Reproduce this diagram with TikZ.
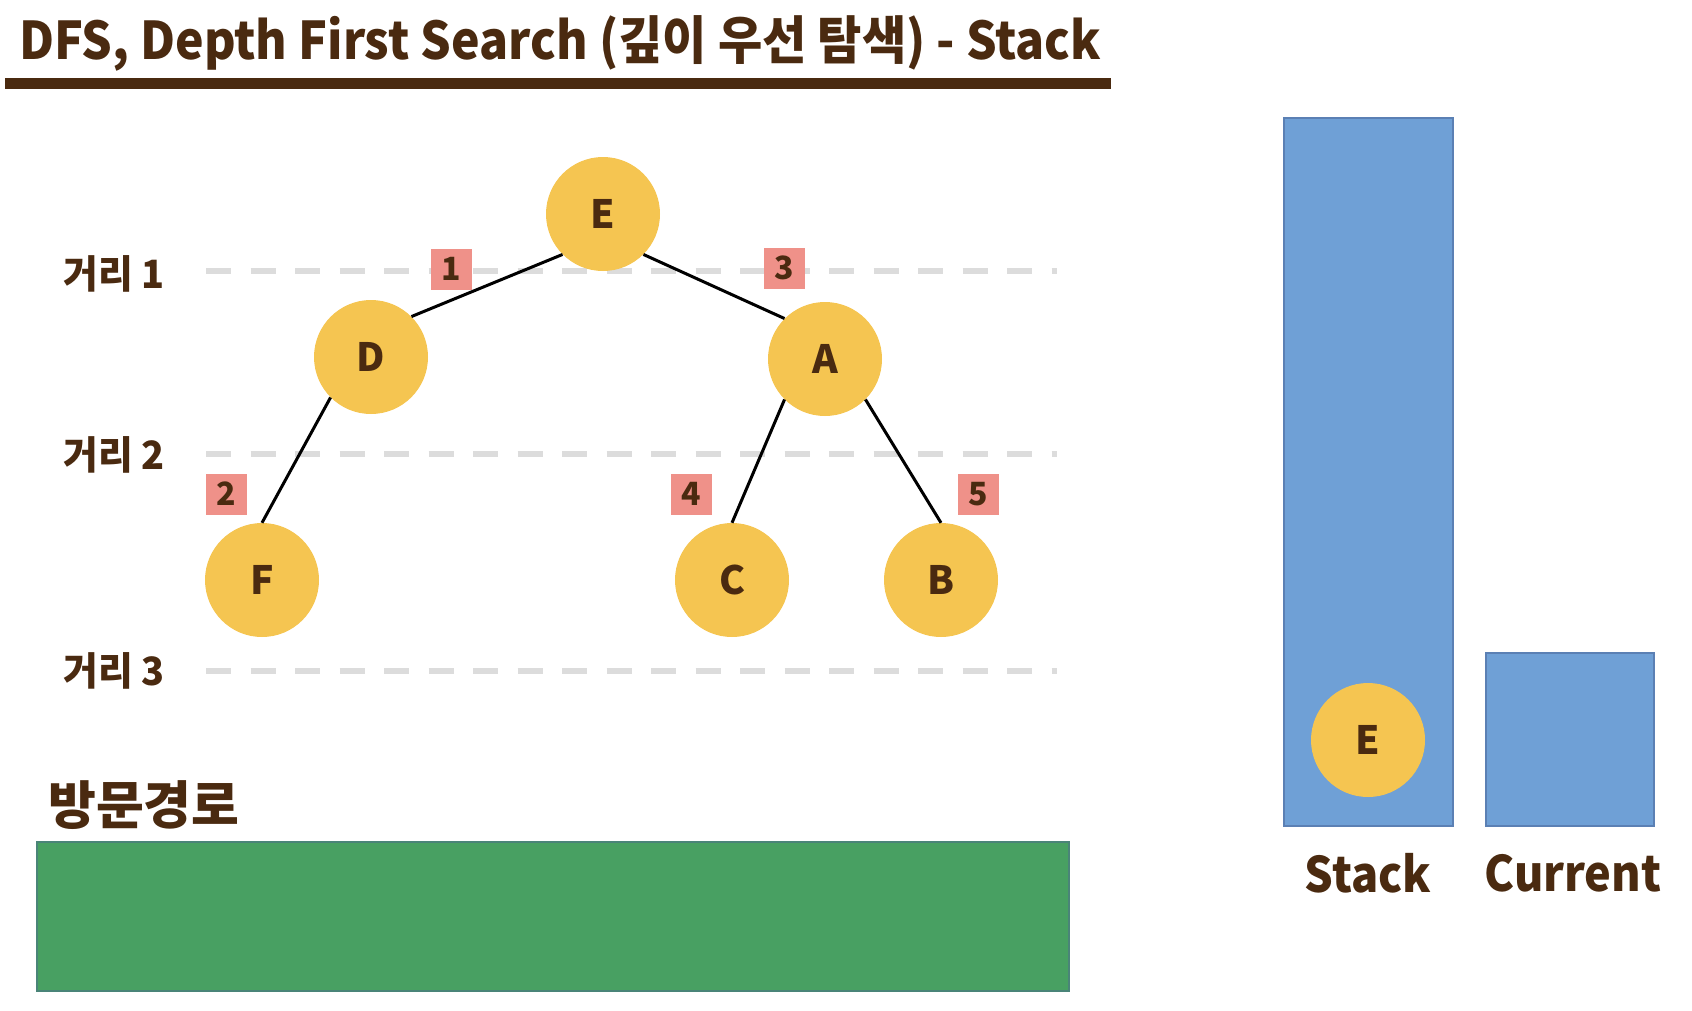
\documentclass[tikz,border=0pt]{standalone}
\usepackage{fontspec}
\setmainfont{Noto Sans CJK KR}
\definecolor{txt}{HTML}{4A2A10}
\definecolor{nodeyellow}{HTML}{F5C551}
\definecolor{salmon}{HTML}{EF9189}
\definecolor{guidegray}{HTML}{DCDCDC}
\definecolor{boxblue}{HTML}{6FA0D6}
\definecolor{boxblueedge}{HTML}{5B80B4}
\definecolor{pathgreen}{HTML}{48A062}
\definecolor{pathgreenedge}{HTML}{4A8478}
\begin{document}
\begin{tikzpicture}[x=1pt,y=-1pt,
  vert/.style={circle, fill=nodeyellow, minimum size=114pt, inner sep=0pt, text=txt, font=\fontsize{39}{39}\selectfont\bfseries},
  ord/.style={fill=salmon, minimum size=41pt, inner sep=0pt, text=txt, font=\fontsize{32}{32}\selectfont\bfseries},
  dist/.style={anchor=west, text=txt, inner sep=0pt, font=\fontsize{39}{39}\selectfont\bfseries},
  guide/.style={draw=guidegray, line width=6.5pt, dash pattern=on 25pt off 19.5pt},
  treeedge/.style={draw=black, line width=3pt},
  panel/.style={draw=boxblueedge, fill=boxblue, line width=2pt, inner sep=0pt},
  biglabel/.style={text=txt, inner sep=0pt, font=\fontsize{49}{49}\selectfont\bfseries}
]
\useasboundingbox (0,0) rectangle (1692,1010);

% title
\node[anchor=base west, text=txt, inner sep=0pt, font=\fontsize{52}{52}\selectfont\bfseries] (title) at (19,59) {\scalebox{0.926}[1]{DFS, Depth First Search (깊이 우선 탐색) - Stack}};
\coordinate (ulA) at (5,83);
\coordinate (ulB) at (1111,83);
\draw[draw=txt, line width=11pt] (ulA) -- (ulB);

% distance labels and guide lines
\node[dist] (d1) at (63,274) {\scalebox{0.97}[1]{거리 1}};
\node[dist] (d2) at (63,455) {\scalebox{0.97}[1]{거리 2}};
\node[dist] (d3) at (63,671) {\scalebox{0.97}[1]{거리 3}};
\coordinate (g1a) at (206,271); \coordinate (g1b) at (1057,271);
\coordinate (g2a) at (206,454); \coordinate (g2b) at (1057,454);
\coordinate (g3a) at (206,671); \coordinate (g3b) at (1057,671);
\draw[guide] (g1a) -- (g1b);
\draw[guide] (g2a) -- (g2b);
\draw[guide] (g3a) -- (g3b);

% tree
\node[vert] (E) at (603,214) {E};
\node[vert] (D) at (371,357) {D};
\node[vert] (A) at (825,359) {A};
\node[vert] (F) at (262,580) {F};
\node[vert] (C) at (732,580) {C};
\node[vert] (B) at (941,580) {B};
\draw[treeedge] (E.225) -- (D.45);
\draw[treeedge] (E.-45) -- (A.135);
\draw[treeedge] (D.225) -- (F.north);
\draw[treeedge] (A.225) -- (C.north);
\draw[treeedge] (A.-45) -- (B.north);

% order boxes
\node[ord] (o1) at (451,269) {1};
\node[ord] (o3) at (784,268) {3};
\node[ord] (o2) at (226,494) {2};
\node[ord] (o4) at (691,494) {4};
\node[ord] (o5) at (978,494) {5};

% visit path
\node[anchor=west, text=txt, inner sep=0pt, font=\fontsize{52}{52}\selectfont\bfseries] (pathlabel) at (48,805) {방문경로};
\node[draw=pathgreenedge, fill=pathgreen, line width=2pt, minimum width=1032pt, minimum height=149pt, inner sep=0pt] (path) at (553,916.5) {};

% stack and current
\node[panel, minimum width=169pt, minimum height=708pt] (stack) at (1368.5,472) {};
\node[panel, minimum width=168pt, minimum height=173pt] (current) at (1570,739.5) {};
\node[vert] (SE) at (1368,740) {E};
\node[biglabel] (stacklabel) at (1368,873) {\scalebox{0.92}[1]{Stack}};
\node[biglabel] (currentlabel) at (1573,873) {\scalebox{0.92}[1]{Current}};
\end{tikzpicture}
\end{document}
